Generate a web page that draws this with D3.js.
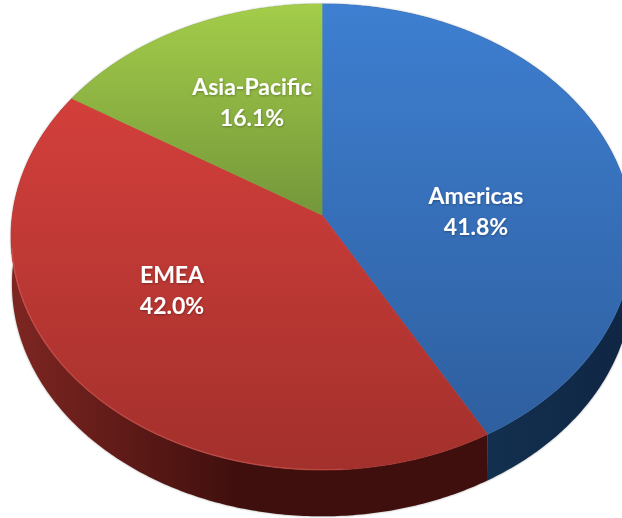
<!DOCTYPE html>
<html><head><meta charset="utf-8">
<script src="https://cdn.jsdelivr.net/npm/d3@7"></script>
<style>html,body{margin:0;padding:0;background:#fff;overflow:hidden}svg{display:block}</style>
</head><body><svg id="c" width="622" height="518"></svg>
<script>
const categories = ["Americas", "EMEA", "Asia-Pacific"];
const shares = [41.8, 42.0, 16.1];
const shareLabels = ["41.8%", "42.0%", "16.1%"];

// layout and styling
const W = 622, H = 518, apexX = 322, apexY = 215, R = 309.6, B = 231, K = -0.0944, DEPTH = 47, BOTTOM_SCALE = 0.997;
const faceGrad = [["#3e7fd1", "#2e5f9f"], ["#d33f3b", "#a3302c"], ["#a3cd4a", "#74973a"]];
const sideGrad = [["#13304f", "#0f2644"], ["#7c2521", "#3f0f0d"], ["#5f7a2a", "#4a6020"]];
const labelPos = [[476, 196], [172, 275], [252, 87]];

const svg = d3.select("#c");
const defs = svg.append("defs");
const yScale = d3.scaleLinear().domain([-1, 1]).range([-B, B]);
const xScale = d3.scaleLinear().domain([-1, 1]).range([-R, R]);

function project(theta, drop = 0, s = 1) {
  const u = Math.sin(theta), v = -Math.cos(theta), w = 1 + K * v;
  return [apexX + s * xScale(u) / w, apexY + s * yScale(v) / w + drop];
}
const line = d3.line();
function rim(a0, a1, drop, s) {
  const n = Math.max(8, Math.ceil(Math.abs(a1 - a0) * 90));
  return d3.range(n + 1).map(i => project(a0 + (a1 - a0) * i / n, drop, s));
}

const arcs = d3.pie().sort(null)(shares);

categories.forEach((c, i) => {
  const f = defs.append("linearGradient").attr("id", "face" + i)
    .attr("gradientUnits", "userSpaceOnUse").attr("x1", 0).attr("x2", 0);
  if (i === 2) f.attr("y1", 4).attr("y2", 215);
  else if (i === 1) f.attr("y1", 98).attr("y2", 470);
  else f.attr("y1", 4).attr("y2", 435);
  f.append("stop").attr("offset", 0).attr("stop-color", faceGrad[i][0]);
  f.append("stop").attr("offset", 1).attr("stop-color", faceGrad[i][1]);
  const s = defs.append("linearGradient").attr("id", "side" + i)
    .attr("gradientUnits", "userSpaceOnUse").attr("y1", 0).attr("y2", 0);
  if (i === 1) s.attr("x1", 20).attr("x2", 240); else s.attr("x1", 486).attr("x2", 622);
  s.append("stop").attr("offset", 0).attr("stop-color", sideGrad[i][0]);
  s.append("stop").attr("offset", 1).attr("stop-color", sideGrad[i][1]);
});
const blur = defs.append("filter").attr("id", "soft").attr("x", "-5%").attr("y", "-5%").attr("width", "110%").attr("height", "110%");
blur.append("feGaussianBlur").attr("stdDeviation", 1.2);
const ts = defs.append("filter").attr("id", "ts").attr("x", "-10%").attr("y", "-20%").attr("width", "120%").attr("height", "140%");
ts.append("feDropShadow").attr("dx", 0.5).attr("dy", 1).attr("stdDeviation", 0.8).attr("flood-color", "#000").attr("flood-opacity", 0.3);

const wallPath = d => line(rim(d.startAngle, d.endAngle, 0, 1).concat(rim(d.endAngle, d.startAngle, DEPTH, BOTTOM_SCALE))) + "Z";

// soft shadow behind the wall
svg.append("g").attr("filter", "url(#soft)").attr("opacity", 0.45).selectAll("path").data(arcs).join("path")
  .attr("fill", "#333").attr("d", wallPath);

// extruded wall
svg.append("g").selectAll("path").data(arcs).join("path")
  .attr("fill", (d, i) => `url(#side${i})`)
  .attr("d", wallPath);

// top faces (a hairline of the same fill closes the seams between slices)
svg.append("g").selectAll("path").data(arcs).join("path")
  .attr("fill", (d, i) => `url(#face${i})`)
  .attr("stroke", (d, i) => `url(#face${i})`).attr("stroke-width", 0.7)
  .attr("d", d => line([[apexX, apexY]].concat(rim(d.startAngle, d.endAngle, 0, 1))) + "Z");

// lit rim on the front edge of the red slice
svg.append("path").datum(arcs[1]).attr("fill", "none").attr("stroke", "#e0706a").attr("stroke-opacity", 0.4).attr("stroke-width", 1)
  .attr("d", d => line(rim(d.startAngle + 0.45, d.endAngle - 0.7, 0, 0.998)));

// labels
const lab = svg.append("g").attr("filter", "url(#ts)").attr("fill", "#fff").attr("text-anchor", "middle")
  .style("font-family", "Lato, 'Open Sans', sans-serif").style("font-size", "23px").style("font-weight", 700);
categories.forEach((c, i) => {
  lab.append("text").attr("x", labelPos[i][0]).attr("y", labelPos[i][1] + 8).text(c);
  lab.append("text").attr("x", labelPos[i][0]).attr("y", labelPos[i][1] + 39).text(shareLabels[i]);
});
</script></body></html>
